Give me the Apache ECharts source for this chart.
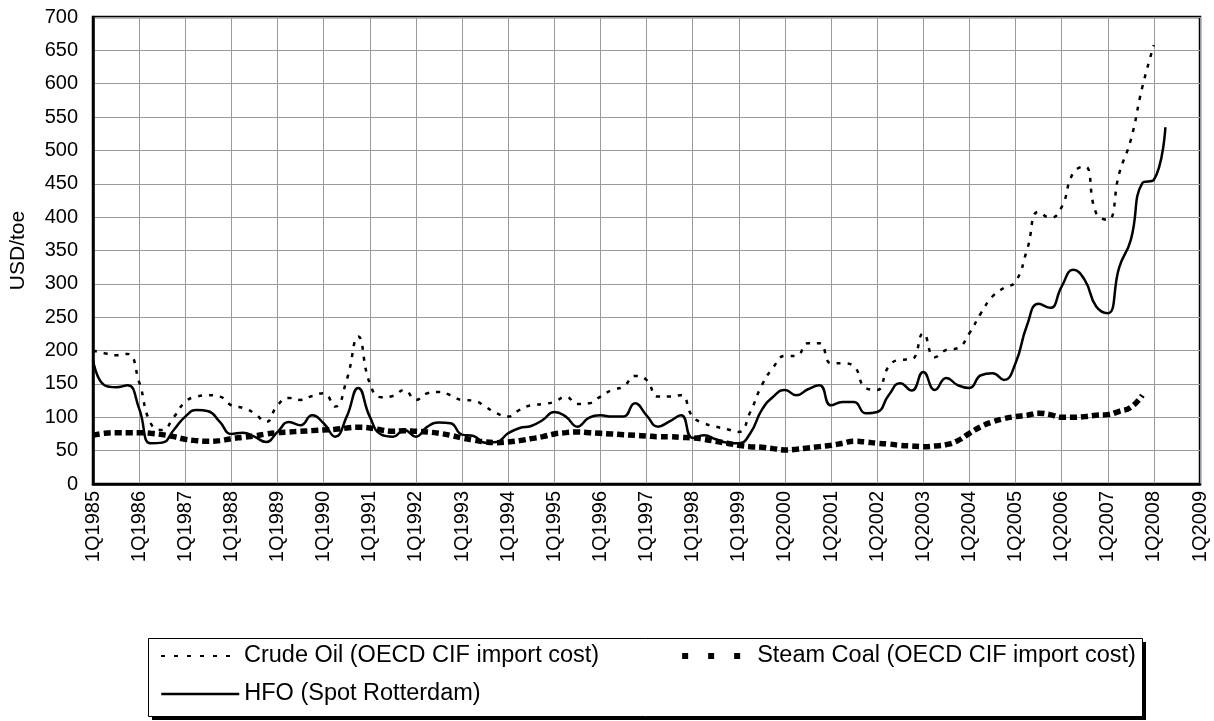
<!DOCTYPE html>
<html>
<head>
<meta charset="utf-8">
<script src="https://cdn.jsdelivr.net/npm/echarts@6/dist/echarts.min.js"></script>
<style>
  html, body { margin: 0; padding: 0; background: #fff; }
  #main { width: 1214px; height: 721px; }
</style>
</head>
<body>
<div id="main"></div>
<script>
// quarterly prices, USD/toe, from 1Q1985
var years = [1985, 1986, 1987, 1988, 1989, 1990, 1991, 1992, 1993, 1994, 1995, 1996,
  1997, 1998, 1999, 2000, 2001, 2002, 2003, 2004, 2005, 2006, 2007, 2008, 2009];

var crudeOil = [
  200, 196, 193, 195,   153, 91, 81, 100,     123, 131, 133, 131,   118, 114, 106, 93,
  118, 129, 126, 132,   136, 116, 156, 221,   151, 130, 132, 141,   126, 136, 138, 133,
  126, 125, 116, 106,   101, 111, 118, 120,   123, 131, 120, 121,   131, 141, 146, 162,
  156, 131, 131, 133,   101, 91, 86, 82,      78, 108, 148, 175,    192, 192, 211, 211,
  181, 181, 176, 144,   141, 176, 186, 187,   226, 190, 201, 204,   226, 256, 281, 294,
  303, 351, 408, 399,   415, 466, 476, 406,   396, 466, 516, 595,   658
];

var steamCoal = [
  73, 76, 77, 77,   77, 76, 74, 71,   67, 65, 64, 65,   68, 70, 72, 75,
  77, 78, 79, 80,   81, 82, 84, 85,   84, 81, 79, 80,   79, 78, 76, 73,
  69, 66, 63, 62,   63, 65, 68, 71,   75, 77, 78, 77,   76, 75, 74, 73,
  72, 71, 71, 70,   69, 67, 64, 61,   58, 56, 55, 53,   51, 52, 54, 56,
  58, 61, 64, 63,   61, 60, 58, 57,   56, 57, 59, 65,   76, 86, 93, 98,
  101, 103, 106, 104,   100, 100, 101, 103,   104, 109, 115, 133
];

var hfo = [
  186, 148, 145, 148,   113, 61, 62, 81,     101, 111, 109, 93,    75, 77, 71, 63,
  78, 93, 88, 103,      91, 71, 101, 144,    101, 74, 71, 81,      71, 86, 92, 91,
  74, 72, 62, 63,       76, 84, 87, 96,      108, 101, 86, 99,     103, 101, 101, 121,
  103, 86, 94, 103,     69, 73, 67, 62,      61, 76, 111, 131,     141, 133, 142, 148,
  118, 123, 123, 106,   108, 133, 151, 140,  168, 141, 159, 148,   144, 163, 166, 156,
  181, 238, 270, 264,   296, 321, 306, 266,  256, 325, 366, 451,   456, 535
];

var yTicks = { min: 0, max: 700, step: 50 };

var quarters = [];
years.forEach(function (y) {
  for (var q = 1; q <= 4; q++) {
    if (y === 2009 && q > 1) break;
    quarters.push(q + 'Q' + y);
  }
});

var FONT = '"Liberation Sans", Arial, sans-serif';

var chart = echarts.init(document.getElementById('main'), null, { renderer: 'canvas' });

chart.setOption({
  backgroundColor: '#fff',
  animation: false,
  textStyle: { fontFamily: FONT, color: '#000' },
  grid: {
    left: 93, right: 14, top: 17, bottom: 237,
    show: true,
    borderColor: '#000',
    borderWidth: 2.5,
    backgroundColor: 'transparent'
  },
  xAxis: {
    type: 'category',
    data: quarters,
    boundaryGap: false,
    axisLine: { show: true, lineStyle: { color: '#000', width: 2.5 } },
    axisTick: { show: false },
    axisLabel: {
      interval: 3,
      rotate: 90,
      margin: 7,
      fontSize: 20,
      color: '#000',
      fontFamily: FONT
    },
    splitLine: {
      show: true,
      interval: 3,
      lineStyle: { color: '#9a9a9a', width: 1 }
    }
  },
  yAxis: {
    type: 'value',
    min: yTicks.min,
    max: yTicks.max,
    interval: yTicks.step,
    name: 'USD/toe',
    nameLocation: 'middle',
    nameGap: 64,
    nameTextStyle: { fontSize: 21, color: '#000', fontFamily: FONT },
    axisLine: { show: true, lineStyle: { color: '#000', width: 2.5 } },
    axisTick: { show: false },
    axisLabel: { fontSize: 20, margin: 15, color: '#000', fontFamily: FONT },
    splitLine: { show: true, lineStyle: { color: '#9a9a9a', width: 1 } }
  },
  graphic: [
    {
      type: 'rect', z: 1, silent: true,
      shape: { x: 152, y: 642, width: 994, height: 78 },
      style: { fill: '#000' }
    },
    {
      type: 'rect', z: 2, silent: true,
      shape: { x: 148.5, y: 638.5, width: 994, height: 78 },
      style: { fill: '#fff', stroke: '#000', lineWidth: 1 }
    }
  ],
  legend: [
    {
      left: 160, top: 644,
      padding: 0,
      itemWidth: 78, itemHeight: 14, itemGap: 72,
      itemStyle: { opacity: 0 },
      textStyle: { fontSize: 23.5, color: '#000', fontFamily: FONT },
      data: [
        { name: 'Crude Oil (OECD CIF import cost)', lineStyle: { width: 2, type: [4, 9] } },
        { name: 'Steam Coal (OECD CIF import cost)', lineStyle: { width: 6, type: [6, 20], dashOffset: -8 } }
      ],
      z: 10
    },
    {
      left: 160, top: 682,
      padding: 0,
      itemWidth: 78, itemHeight: 14,
      itemStyle: { opacity: 0 },
      textStyle: { fontSize: 23.5, color: '#000', fontFamily: FONT },
      data: [{ name: 'HFO (Spot Rotterdam)', lineStyle: { width: 2.5 } }],
      z: 10
    }
  ],
  series: [
    {
      name: 'Crude Oil (OECD CIF import cost)',
      type: 'line',
      data: crudeOil,
      smooth: 0.5,
      symbol: 'none',
      lineStyle: { color: '#000', width: 2.5, type: [4, 7] },
      itemStyle: { color: '#000' },
      z: 3
    },
    {
      name: 'Steam Coal (OECD CIF import cost)',
      type: 'line',
      data: steamCoal,
      smooth: 0.5,
      symbol: 'none',
      lineStyle: { color: '#000', width: 5.5, type: [7, 4] },
      itemStyle: { color: '#000' },
      z: 3
    },
    {
      name: 'HFO (Spot Rotterdam)',
      type: 'line',
      data: hfo,
      smooth: 0.5,
      symbol: 'none',
      lineStyle: { color: '#000', width: 2.5, type: 'solid' },
      itemStyle: { color: '#000' },
      z: 4
    }
  ]
});
</script>
</body>
</html>
